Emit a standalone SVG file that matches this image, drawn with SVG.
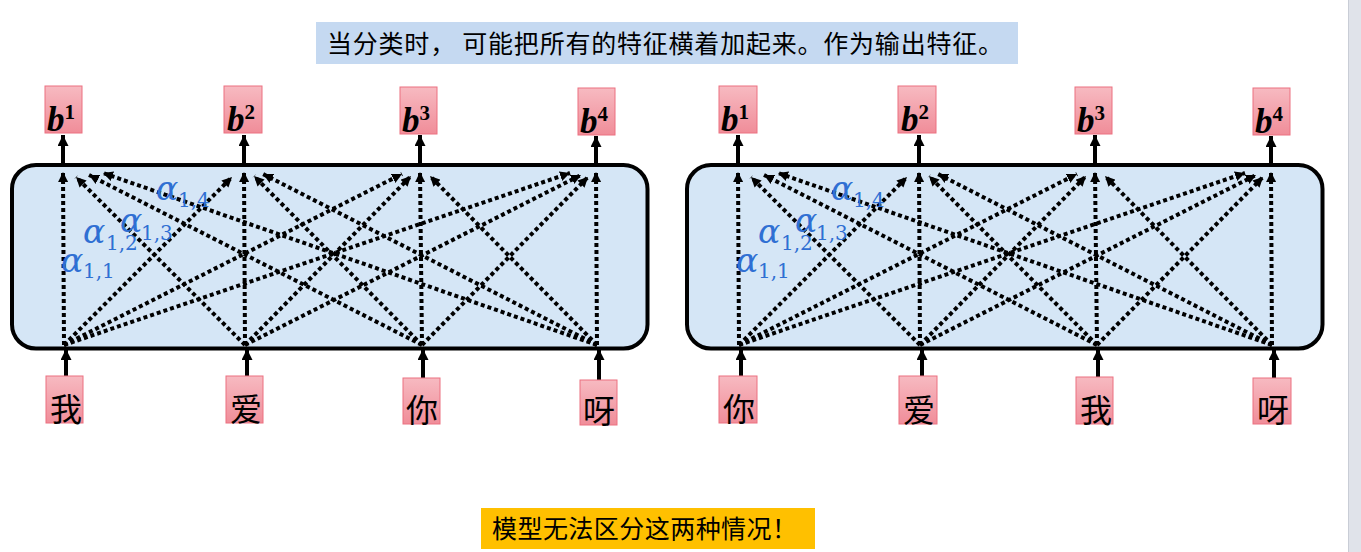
<svg xmlns="http://www.w3.org/2000/svg" width="1361" height="552" viewBox="0 0 1361 552">
<defs>
<linearGradient id="pink" x1="0" y1="0" x2="0" y2="1">
<stop offset="0" stop-color="#f7bac1"/>
<stop offset="1" stop-color="#f08d99"/>
</linearGradient>
<marker id="ah" markerUnits="userSpaceOnUse" markerWidth="10" markerHeight="10" refX="10" refY="5" orient="auto">
<path d="M0,0 L10,5 L0,10 z" fill="#000"/>
</marker>
<marker id="ahs" markerUnits="userSpaceOnUse" markerWidth="11" markerHeight="11" refX="11" refY="5.5" orient="auto">
<path d="M0,0 L11,5.5 L0,11 z" fill="#000"/>
</marker>
<g id="conn">
<line x1="64" y1="345" x2="63" y2="172"/>
<line x1="245" y1="345" x2="76" y2="177"/>
<line x1="422" y1="345" x2="89" y2="175"/>
<line x1="597" y1="345" x2="103" y2="173"/>
<line x1="64" y1="345" x2="232" y2="177"/>
<line x1="245" y1="345" x2="244" y2="172"/>
<line x1="422" y1="345" x2="254" y2="176"/>
<line x1="597" y1="345" x2="263" y2="174"/>
<line x1="64" y1="345" x2="402" y2="174"/>
<line x1="245" y1="345" x2="411" y2="176"/>
<line x1="422" y1="345" x2="420" y2="172"/>
<line x1="597" y1="345" x2="430" y2="176"/>
<line x1="64" y1="345" x2="570" y2="173"/>
<line x1="245" y1="345" x2="581" y2="175"/>
<line x1="422" y1="345" x2="588" y2="177"/>
<line x1="597" y1="345" x2="596" y2="172"/>
</g>
<g id="solid">
<line x1="63" y1="163" x2="63" y2="135"/>
<line x1="244" y1="163" x2="244" y2="135"/>
<line x1="420" y1="163" x2="420" y2="135"/>
<line x1="596" y1="163" x2="596" y2="136"/>
<line x1="66" y1="376" x2="66" y2="349"/>
<line x1="247" y1="376" x2="247" y2="349"/>
<line x1="423" y1="378" x2="423" y2="349"/>
<line x1="599" y1="380" x2="599" y2="349"/>
</g>
</defs>
<style>
.panel{fill:#d5e6f6;stroke:#000;stroke-width:4}
.box{fill:url(#pink);stroke:#ec7080;stroke-width:1}
.dot{stroke:#000;stroke-width:4;stroke-dasharray:4 3;fill:none;marker-end:url(#ah)}
.sol{stroke:#000;stroke-width:4;fill:none;marker-end:url(#ahs)}
.bl{font-family:"Liberation Serif",serif;font-weight:bold;font-style:italic;font-size:35px;fill:#000}
.sup{font-style:normal;font-size:21px}
.cn{font-family:"Noto Sans CJK SC",sans-serif;font-size:32px;fill:#000;text-anchor:middle}
.al{font-family:"DejaVu Serif",serif;font-style:italic;font-size:33px;fill:#2f6fd3}
.sub{font-style:normal;font-size:20px}
.ban{font-family:"Noto Sans CJK SC",sans-serif;font-size:25px;fill:#000}
</style>
<rect x="1348" y="0" width="13" height="552" fill="#e0e3ea"/>
<line x1="1348.5" y1="0" x2="1348.5" y2="552" stroke="#c9cdd6" stroke-width="1"/>

<g id="banner-top">
<rect x="316" y="22" width="702" height="42" fill="#c5d9f1"/>
<text class="ban" x="327" y="53" textLength="676">当分类时， 可能把所有的特征横着加起来。作为输出特征。</text>
</g>
<g id="banner-bottom">
<rect x="481" y="508" width="334" height="41" fill="#ffc000"/>
<text class="ban" x="492" y="538" textLength="305">模型无法区分这两种情况！</text>
</g>

<g id="panel-left">
<rect class="panel" x="12" y="165" width="635.5" height="183.5" rx="24"/>
</g>
<g id="panel-right">
<rect class="panel" x="687" y="165" width="635.5" height="183.5" rx="24"/>
</g>

<g id="connectors">
<g class="dot"><use href="#conn"/></g>
<g class="dot" transform="translate(675,0)"><use href="#conn"/></g>
<g class="sol"><use href="#solid"/></g>
<g class="sol" transform="translate(675,0)"><use href="#solid"/></g>
</g>

<g id="alpha-left">
<text class="al" x="61" y="272">α<tspan class="sub" x="83" y="278">1,1</tspan></text>
<text class="al" x="83" y="243">α<tspan class="sub" x="106" y="250">1,2</tspan></text>
<text class="al" x="120" y="232">α<tspan class="sub" x="141" y="240">1,3</tspan></text>
<text class="al" x="156" y="200">α<tspan class="sub" x="178" y="207">1,4</tspan></text>
</g>
<g id="alpha-right">
<text class="al" x="736" y="272">α<tspan class="sub" x="758" y="278">1,1</tspan></text>
<text class="al" x="758" y="243">α<tspan class="sub" x="781" y="250">1,2</tspan></text>
<text class="al" x="795" y="232">α<tspan class="sub" x="816" y="240">1,3</tspan></text>
<text class="al" x="831" y="200">α<tspan class="sub" x="853" y="207">1,4</tspan></text>
</g>

<g id="b1-left"><rect class="box" x="45" y="86" width="37" height="47"/><text class="bl" x="47" y="131">b<tspan class="sup" dy="-12">1</tspan></text></g>
<g id="b2-left"><rect class="box" x="224" y="86" width="38" height="47"/><text class="bl" x="227" y="131">b<tspan class="sup" dy="-12">2</tspan></text></g>
<g id="b3-left"><rect class="box" x="400" y="87" width="37" height="47"/><text class="bl" x="402" y="132">b<tspan class="sup" dy="-12">3</tspan></text></g>
<g id="b4-left"><rect class="box" x="578" y="88" width="37" height="47"/><text class="bl" x="580" y="133">b<tspan class="sup" dy="-12">4</tspan></text></g>

<g id="b1-right"><rect class="box" x="719" y="86" width="38" height="47"/><text class="bl" x="721" y="131">b<tspan class="sup" dy="-12">1</tspan></text></g>
<g id="b2-right"><rect class="box" x="898" y="86" width="38" height="47"/><text class="bl" x="901" y="131">b<tspan class="sup" dy="-12">2</tspan></text></g>
<g id="b3-right"><rect class="box" x="1075" y="87" width="37" height="47"/><text class="bl" x="1077" y="132">b<tspan class="sup" dy="-12">3</tspan></text></g>
<g id="b4-right"><rect class="box" x="1253" y="88" width="37" height="47"/><text class="bl" x="1255" y="133">b<tspan class="sup" dy="-12">4</tspan></text></g>

<g id="w1-left"><rect class="box" x="46" y="376" width="37" height="47"/><text class="cn" x="66" y="421">我</text></g>
<g id="w2-left"><rect class="box" x="226" y="376" width="37" height="47"/><text class="cn" x="246" y="421">爱</text></g>
<g id="w3-left"><rect class="box" x="403" y="378" width="37" height="46"/><text class="cn" x="422" y="422">你</text></g>
<g id="w4-left"><rect class="box" x="580" y="380" width="37" height="45"/><text class="cn" x="599" y="423">呀</text></g>

<g id="w1-right"><rect class="box" x="719" y="376" width="38" height="47"/><text class="cn" x="739" y="421">你</text></g>
<g id="w2-right"><rect class="box" x="899" y="376" width="38" height="48"/><text class="cn" x="919" y="422">爱</text></g>
<g id="w3-right"><rect class="box" x="1076" y="377" width="37" height="47"/><text class="cn" x="1096" y="422">我</text></g>
<g id="w4-right"><rect class="box" x="1253" y="378" width="38" height="46"/><text class="cn" x="1273" y="422">呀</text></g>
</svg>
